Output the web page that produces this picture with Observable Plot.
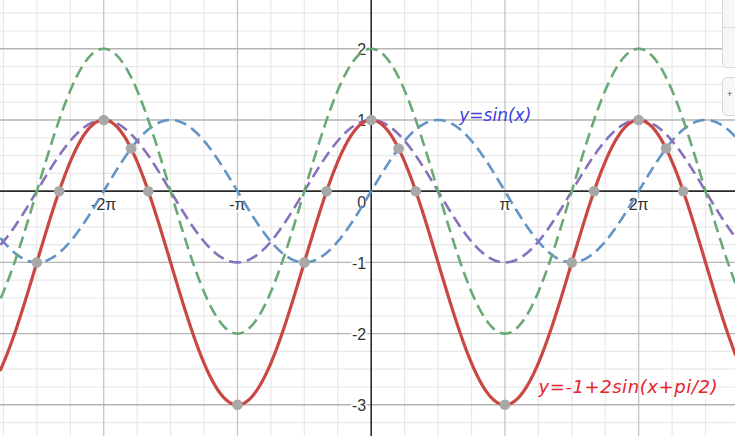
<!DOCTYPE html>
<html>
<head>
<meta charset="utf-8">
<script src="https://cdn.jsdelivr.net/npm/d3@7"></script>
<script src="https://cdn.jsdelivr.net/npm/@observablehq/plot@0.6"></script>
<style>
  html, body { margin: 0; padding: 0; background: #fff; }
  #wrap { position: relative; width: 735px; height: 436px; overflow: hidden; }
  .ui { position: absolute; left: 722px; width: 24px; background: #f7f7f7; border: 1px solid #d8d8d8; border-radius: 5px; box-sizing: border-box; }
</style>
</head>
<body>
<div id="wrap">
  <div id="chart"></div>
  <div class="ui" style="top:-6px;height:74px;"><div style="position:absolute;left:0;right:0;top:32px;border-top:1px solid #dcdcdc;"></div></div>
  <div class="ui" style="top:77px;height:39px;"><span style="position:absolute;left:4px;top:11px;font:9px 'Liberation Sans';color:#555;">+</span></div>
</div>
<script>
const PI = Math.PI;

// Curves: y = offset + amp * sin(x + phase)
const curveNames  = ["y=-1+2sin(x+pi/2)", "y=2sin(x+pi/2)", "y=sin(x+pi/2)", "y=sin(x)"];
const curveAmp    = [2, 2, 1, 1];
const curvePhase  = [PI / 2, PI / 2, PI / 2, 0];
const curveOffset = [-1, 0, 0, 0];

// Highlighted points (grey)
const pointX = [-7.854, -7.330, -6.283, -5.640, -5.236, -3.142, -1.571, -1.047, 0, 0.644, 1.047, 3.142, 4.712, 5.236, 6.283, 6.927, 7.330];
const pointY = [-1, 0, 1, 0.6, 0, -3, -1, 0, 1, 0.6, 0, -3, -1, 0, 1, 0.6, 0];

// Tick labels
const xTickValues = [-2 * PI, -PI, PI, 2 * PI];
const xTickLabels = ["-2π", "-π", "π", "2π"];
const yTickValues = [-3, -2, -1, 1, 2];
const yTickLabels = ["-3", "-2", "-1", "1", "2"];

const xDomain = [-8.708, 8.558];
const yDomain = [-3.445, 2.678];

// sample curves
const step = 0.01;
const xs = d3.range(xDomain[0], xDomain[1] + step, step);
const curves = curveNames.map((name, i) =>
  xs.map(x => ({ name, x, y: curveOffset[i] + curveAmp[i] * Math.sin(x + curvePhase[i]) }))
);
const points = pointX.map((x, i) => ({ x, y: pointY[i] }));

const minorX = d3.range(-12, 12).map(k => k * PI / 4).filter(v => v % PI !== 0);
const majorX = d3.range(-3, 4).map(k => k * PI).filter(v => v !== 0);
const minorY = d3.range(-16, 12).map(k => k / 4).filter(v => !Number.isInteger(v));
const majorY = d3.range(-4, 4).filter(v => v !== 0);

const labelFont = "Liberation Sans, Arial, sans-serif";
const noteFont = "DejaVu Sans, sans-serif";

const dashStyle = { strokeWidth: 2.6, strokeDasharray: "12,6", strokeLinecap: "butt" };

const chart = Plot.plot({
  width: 735,
  height: 436,
  margin: 0,
  x: { domain: xDomain, axis: null },
  y: { domain: yDomain, axis: null },
  style: { background: "white" },
  marks: [
    Plot.ruleX(minorX, { stroke: "#e8e8e8", strokeWidth: 1.2 }),
    Plot.ruleY(minorY, { stroke: "#e8e8e8", strokeWidth: 1.2 }),
    Plot.ruleX(majorX, { stroke: "#c4c4c4", strokeWidth: 1.3 }),
    Plot.ruleY(majorY, { stroke: "#b4b4b4", strokeWidth: 1.4 }),
    Plot.ruleX([0], { stroke: "#2a2a2a", strokeWidth: 1.6 }),
    Plot.ruleY([0], { stroke: "#2a2a2a", strokeWidth: 1.8 }),
    Plot.text(xTickValues, {
      x: d => d, y: () => 0, text: (d, i) => xTickLabels[i],
      dy: 14, lineAnchor: "middle", fontSize: 16, fontFamily: labelFont,
      fill: "#333", stroke: "white", strokeWidth: 4, paintOrder: "stroke"
    }),
    Plot.text(yTickValues, {
      x: () => 0, y: d => d, text: (d, i) => yTickLabels[i],
      dx: -5, dy: 1, textAnchor: "end", lineAnchor: "middle", fontSize: 16, fontFamily: labelFont,
      fill: "#333", stroke: "white", strokeWidth: 4, paintOrder: "stroke"
    }),
    Plot.text(["0"], {
      x: () => 0, y: () => 0, text: d => d,
      dx: -5, dy: 12, textAnchor: "end", lineAnchor: "middle", fontSize: 16, fontFamily: labelFont,
      fill: "#333", stroke: "white", strokeWidth: 4, paintOrder: "stroke"
    }),
    Plot.line(curves[3], { x: "x", y: "y", stroke: "#6294c6", ...dashStyle }),
    Plot.line(curves[2], { x: "x", y: "y", stroke: "#8871bc", ...dashStyle }),
    Plot.line(curves[1], { x: "x", y: "y", stroke: "#6aa974", ...dashStyle }),
    Plot.line(curves[0], { x: "x", y: "y", stroke: "#c94842", strokeWidth: 3.2 }),
    Plot.dot(points, { x: "x", y: "y", r: 5.3, fill: "#a8a8a8", stroke: "none" }),
    Plot.text([curveNames[3]], {
      x: [2.07], y: [0.98], text: d => d, textAnchor: "start", lineAnchor: "bottom",
      fontSize: 17, fontStyle: "italic", fontFamily: noteFont, fill: "#3d3ddc"
    }),
    Plot.text([curveNames[0]], {
      x: [3.93], y: [-2.83], text: d => d, textAnchor: "start", lineAnchor: "bottom",
      fontSize: 18, fontStyle: "italic", fontFamily: noteFont, fill: "#e8222a",
      className: "note-red"
    })
  ]
});
d3.select(chart).selectAll(".note-red text")
  .attr("textLength", 179).attr("lengthAdjust", "spacing");
document.getElementById("chart").appendChild(chart);
</script>
</body>
</html>
